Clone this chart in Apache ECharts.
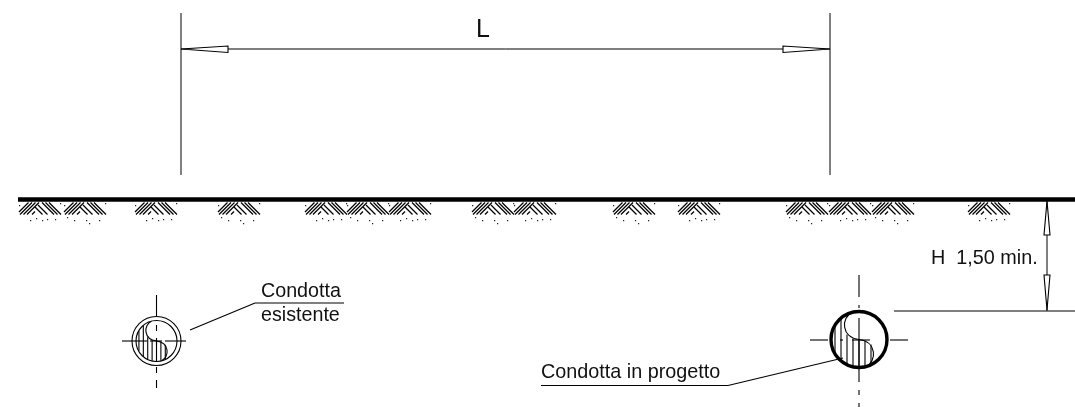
<!DOCTYPE html>
<html><head><meta charset="utf-8">
<style>html,body{margin:0;padding:0;background:#fff}#c{width:1075px;height:407px}</style>
<script src="https://cdn.jsdelivr.net/npm/echarts@6/dist/echarts.min.js"></script>
</head><body><div id="c"></div>
<script>
// Drawing content, in the drawing's own units (x right, y down)
const tuftLefts = [19,64,135,218,305,347,389,472,514,613,678,786,829,872,968];
const tuftSlashes = [[0,10,9.5,0.5],[1,12.5,13,0.5],[4.5,12.5,16.5,0.5],[8,12.5,20,0.5],[13,12.5,16,9.5]];
const tuftBackslashes = [[16,5,23.5,12.5],[19,3,28.5,12.5],[23,0.5,35,12.5],[26.5,0.5,38.5,12.5],[30,0.5,42,12.5]];
const tuftDotsA = [[11,18],[17,16],[23,18],[28,17],[36,17],[41,1],[0,3]];
const tuftDotsB = [[3,15],[10,18],[22,18],[25,21],[35,18],[41,1],[0,3]];
const dimensionLines = [[181,13,181,175],[830,13,830,175],[181,49,830,49],[1047,200,1047,311],[894,311,1075,311]];
const leaderLines = [[190,330,255,303],[255,303,344,303],[541,385.5,728,385.5],[728,385.5,843,358]];
const groundLine = [18,199.5,1075,199.5];
const arrowHeads = [
  [[181,49],[228,46],[228,52.5]],
  [[830,49],[783,46],[783,52.5]],
  [[1047,201],[1044,235],[1050,235]],
  [[1047,310],[1044,275],[1050,275]]
];
const centerLines = [
  [122,341,147,341],[150,341,162,341],[165,341,186,341],
  [156.5,295,156.5,317],[156.5,325,156.5,331],[156.5,338,156.5,345],[156.5,367,156.5,373],[156.5,380,156.5,388],
  [810,340,828,340],[840,340,843,340],[852,340,870,340],[890,340,908,340],
  [859,275,859,297],[859,305,859,308],[859,318,859,382],[859,390,859,395],[859,403,859,407]
];
const pipes = [
  {x:156.5,y:341,r:20.5,outer:24.5,wall:1.1,inner:1.1},
  {x:859,y:339.5,r:28,outer:null,wall:3.4,inner:1.1}
];
const hatchOffsets = [-24,-18,-12,-6,0,6,12];
const hatchTops = [-14,-21,-5,-1,0,1,5];
const hatchBottoms = [14,21,25,27,28,27,25];
const pipeCurve = [[-7,-27,-18,-22,-18,-2,0,0],[0,0,18,2,18,22,7,27]];
const labels = [
  ['L',476,30,25],
  ['Condotta',261,292,19.7],
  ['esistente',261,316,19.7],
  ['Condotta in progetto',541,373,19.8],
  ['H  1,50 min.',931,259,19.8]
];

const INK = '#000';
const seg = (api, a, w) => {
  const p = api.coord([a[0], a[1]]), q = api.coord([a[2], a[3]]);
  return {type:'line', shape:{x1:p[0],y1:p[1],x2:q[0],y2:q[1]}, style:{stroke:INK,lineWidth:w,fill:null}};
};
const segSeries = (rows, w) => ({
  type:'custom', coordinateSystem:'cartesian2d', silent:true, data:rows,
  encode:{x:0,y:1},
  renderItem:(p, api) => seg(api, [api.value(0),api.value(1),api.value(2),api.value(3)], w)
});
const tuftSeries = {
  type:'custom', coordinateSystem:'cartesian2d', silent:true,
  data:tuftLefts.map((x,i)=>[x,202,i%2]), encode:{x:0,y:1},
  renderItem:(p, api) => {
    const x0 = api.value(0), y0 = api.value(1), dots = api.value(2) ? tuftDotsB : tuftDotsA;
    const kids = [];
    tuftSlashes.concat(tuftBackslashes).forEach(s => kids.push(seg(api,[x0+s[0],y0+s[1],x0+s[2],y0+s[3]],1.3)));
    dots.forEach(d => { const c = api.coord([x0+d[0],y0+d[1]]);
      kids.push({type:'rect',shape:{x:c[0],y:c[1],width:1.2,height:1.2},style:{fill:'#222'}}); });
    return {type:'group',children:kids};
  }
};
const pipeSeries = {
  type:'custom', coordinateSystem:'cartesian2d', silent:true,
  data:pipes.map((q,i)=>[q.x,q.y,i]), encode:{x:0,y:1},
  renderItem:(p, api) => {
    const q = pipes[api.value(2)], k = q.r/28, kids = [];
    const at = (dx,dy) => api.coord([q.x+dx*k, q.y+dy*k]);
    const c = api.coord([q.x,q.y]);
    kids.push({type:'circle',shape:{cx:c[0],cy:c[1],r:q.r},style:{fill:null,stroke:INK,lineWidth:q.wall}});
    if(q.outer) kids.push({type:'circle',shape:{cx:c[0],cy:c[1],r:q.outer},style:{fill:null,stroke:INK,lineWidth:q.wall}});
    hatchOffsets.forEach((h,i)=>{
      const a = at(h,hatchTops[i]), b = at(h,hatchBottoms[i]);
      kids.push({type:'line',shape:{x1:a[0],y1:a[1],x2:b[0],y2:b[1]},style:{stroke:INK,lineWidth:q.inner,fill:null}});
    });
    pipeCurve.forEach(s=>{
      const a=at(s[0],s[1]),b=at(s[2],s[3]),d=at(s[4],s[5]),e=at(s[6],s[7]);
      kids.push({type:'bezierCurve',shape:{x1:a[0],y1:a[1],cpx1:b[0],cpy1:b[1],cpx2:d[0],cpy2:d[1],x2:e[0],y2:e[1]},
        style:{stroke:INK,lineWidth:q.inner,fill:null}});
    });
    return {type:'group',children:kids};
  }
};
const arrowSeries = {
  type:'custom', coordinateSystem:'cartesian2d', silent:true,
  data:arrowHeads.map((a,i)=>[a[0][0],a[0][1],i]), encode:{x:0,y:1},
  renderItem:(p, api) => ({type:'polygon',
    shape:{points:arrowHeads[api.value(2)].map(v=>api.coord(v))},
    style:{fill:'#fff',stroke:INK,lineWidth:1.1}})
};
const labelSeries = {
  type:'custom', coordinateSystem:'cartesian2d', silent:true,
  data:labels.map((l,i)=>[l[1],l[2],i]), encode:{x:0,y:1},
  renderItem:(p, api) => {
    const l = labels[api.value(2)], c = api.coord([l[1],l[2]]);
    return {type:'text',x:c[0],y:c[1],style:{text:l[0],fontFamily:'"Liberation Sans",Arial,sans-serif',
      fontSize:l[3],fill:'#111',align:'left',verticalAlign:'middle'}};
  }
};
const chart = echarts.init(document.getElementById('c'));
chart.setOption({
  animation:false, backgroundColor:'#fff',
  grid:{left:0,right:0,top:0,bottom:0},
  xAxis:{type:'value',min:0,max:1075,show:false},
  yAxis:{type:'value',min:0,max:407,inverse:true,show:false},
  series:[
    segSeries([groundLine],4.4), tuftSeries, segSeries(dimensionLines,1), segSeries(leaderLines,1.1),
    pipeSeries, segSeries(centerLines,1.1), arrowSeries, labelSeries
  ]
});
</script></body></html>
